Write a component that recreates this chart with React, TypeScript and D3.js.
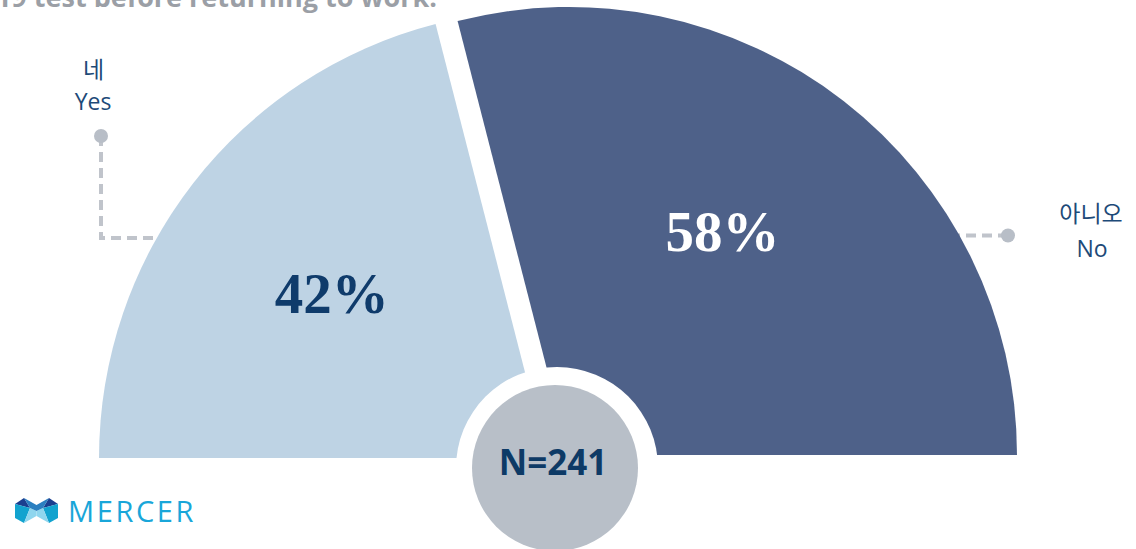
import React from "react";
import * as d3 from "d3";

const categories = ["Yes", "No"];
const categoryKo = ["네", "아니오"];
const values = [42, 58];
const sampleLabel = "N=241";
const titleText = "Did you receive a COVID-19 test before returning to work.";

const W = 1136;
const H = 549;
const CX = 558;
const CY = 456.5;
const R = 448;
const sliceColors = ["#bed3e4", "#4e6189"];
const pctColors = ["#0f3b6b", "#ffffff"];
const offsets = [
  { dx: -11, dy: 1.5 },
  { dx: 11, dy: -1.5 },
];

export default function App() {
  const pie = d3
    .pie<number>()
    .sort(null)
    .startAngle(-Math.PI / 2)
    .endAngle(Math.PI / 2)
    .value((d) => d);
  const arcs = pie(values);
  const arc = d3.arc<d3.PieArcDatum<number>>().innerRadius(0).outerRadius(R);
  const labelArc = d3.arc<d3.PieArcDatum<number>>().innerRadius(270).outerRadius(270);

  const labelColor = "#1d4a78";
  const leaderColor = "#c0c4cb";

  return (
    <svg
      width={W}
      height={H}
      style={{ position: "absolute", left: 0, top: 0, background: "#fff" }}
      fontFamily="'Open Sans', 'Noto Sans', sans-serif"
    >
      <rect width={W} height={H} fill="#fff" />
      <text
        x={437}
        y={7}
        textAnchor="end"
        fontSize={27}
        fontWeight={700}
        fill="#9b9fa6"
      >
        {titleText}
      </text>

      {/* leader lines (drawn beneath slices) */}
      <path
        d={`M101,136 V238 H220`}
        fill="none"
        stroke={leaderColor}
        strokeWidth={4}
        strokeDasharray="10 6"
      />
      <circle cx={101} cy={136} r={7} fill="#b8bec7" />
      <path
        d={`M1008,235.5 H920`}
        fill="none"
        stroke={leaderColor}
        strokeWidth={4}
        strokeDasharray="10 6"
      />
      <circle cx={1008} cy={235.5} r={7} fill="#b8bec7" />

      {arcs.map((a, i) => (
        <g key={categories[i]} transform={`translate(${CX + offsets[i].dx},${CY + offsets[i].dy})`}>
          <path d={arc(a) || ""} fill={sliceColors[i]} />
        </g>
      ))}

      {arcs.map((a, i) => {
        const [lx, ly] = labelArc.centroid(a);
        const adj = i === 1 ? { x: -12, y: -10 } : { x: -2, y: 1 };
        return (
          <text
            key={"p" + i}
            x={CX + offsets[i].dx + lx + adj.x}
            y={CY + offsets[i].dy + ly + adj.y}
            textAnchor="middle"
            dominantBaseline="central"
            fontFamily="'Liberation Serif', 'Times New Roman', serif"
            fontWeight={700}
            fontSize={57}
            fill={pctColors[i]}
          >
            {values[i]}%
          </text>
        );
      })}

      {/* center badge */}
      <circle cx={557} cy={468} r={101} fill="#ffffff" />
      <circle cx={555} cy={468} r={83} fill="#b8bfc8" />
      <text
        x={553}
        y={475}
        textAnchor="middle"
        fontSize={35}
        fontWeight={700}
        fill="#0d3a66"
      >
        {sampleLabel}
      </text>

      {/* category labels */}
      <text x={93.5} y={78} textAnchor="middle" fontSize={23} fill={labelColor} fontFamily="'Noto Sans CJK KR', sans-serif">
        {categoryKo[0]}
      </text>
      <text x={93} y={110} textAnchor="middle" fontSize={23} fill={labelColor}>
        {categories[0]}
      </text>
      <text x={1091} y={222} textAnchor="middle" fontSize={23} fill={labelColor} fontFamily="'Noto Sans CJK KR', sans-serif">
        {categoryKo[1]}
      </text>
      <text x={1092} y={257} textAnchor="middle" fontSize={23} fill={labelColor}>
        {categories[1]}
      </text>

      {/* Mercer logo */}
      <g>
        <polygon points="15,504 24,498 30,508" fill="#1b3f8f" />
        <polygon points="15,504 30,508 24,523 15,518" fill="#12a3cf" />
        <polygon points="30,508 36.5,511 36.5,516 24,523" fill="#8fd6ee" />
        <polygon points="58,504 49,498 43,508" fill="#1b3f8f" />
        <polygon points="58,504 43,508 49,523 58,518" fill="#12a3cf" />
        <polygon points="43,508 36.5,511 36.5,516 49,523" fill="#8fd6ee" />
        <polygon points="24,498 30,508 36.5,511 43,508 49,498 36.5,505" fill="#2b7fc0" />
      </g>
      <text x={68} y={522} fontSize={29} fontWeight={500} fill="#19a6d9" letterSpacing={2.6}>
        MERCER
      </text>
    </svg>
  );
}
